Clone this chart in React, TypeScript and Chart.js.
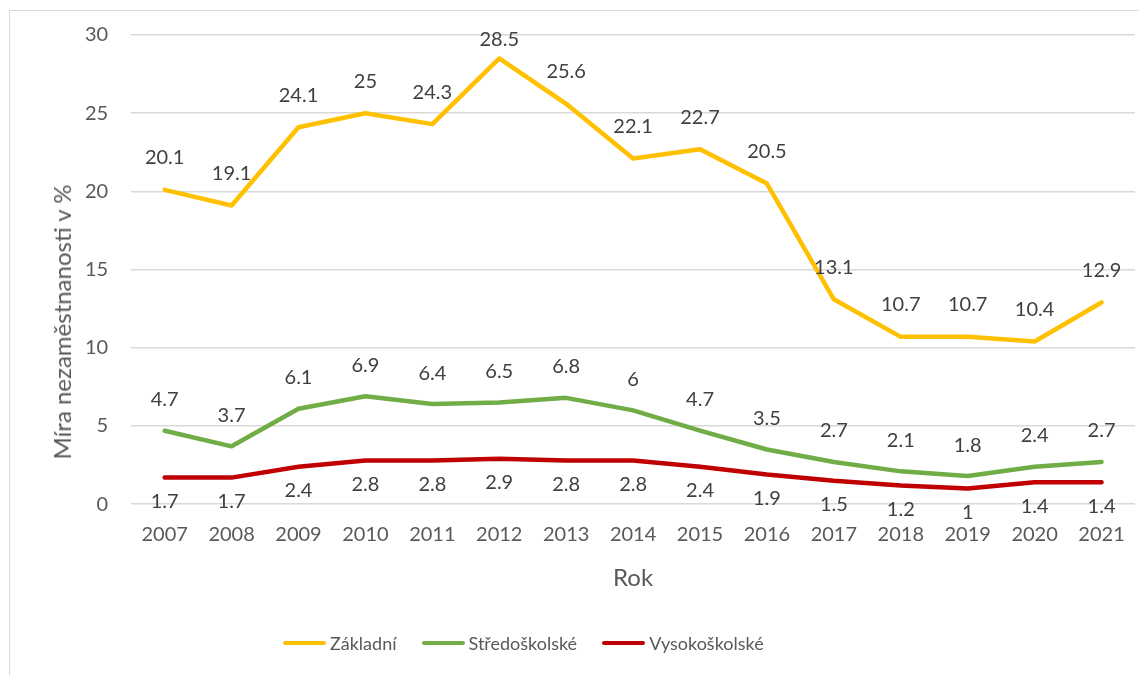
import React, { useEffect, useRef } from "react";
import { Chart, registerables } from "chart.js";

Chart.register(...registerables);

const years = ["2007","2008","2009","2010","2011","2012","2013","2014","2015","2016","2017","2018","2019","2020","2021"];
const zakladni = [20.1, 19.1, 24.1, 25, 24.3, 28.5, 25.6, 22.1, 22.7, 20.5, 13.1, 10.7, 10.7, 10.4, 12.9];
const stredoskolske = [4.7, 3.7, 6.1, 6.9, 6.4, 6.5, 6.8, 6, 4.7, 3.5, 2.7, 2.1, 1.8, 2.4, 2.7];
const vysokoskolske = [1.7, 1.7, 2.4, 2.8, 2.8, 2.9, 2.8, 2.8, 2.4, 1.9, 1.5, 1.2, 1, 1.4, 1.4];
const seriesNames = ["Základní", "Středoškolské", "Vysokoškolské"];
const seriesColors = ["#FFC000", "#70AD47", "#C00000"];
const labelOffsets = [-32, -31, 24];
const yTitle = "Míra nezaměstnanosti v %";
const xTitle = "Rok";

const FONT = "Lato, 'Open Sans', sans-serif";

const dataLabels = {
  id: "dataLabels",
  afterDatasetsDraw(chart: any) {
    const ctx = chart.ctx;
    const top = chart.chartArea.top + 5;
    ctx.save();
    ctx.font = `20px ${FONT}`;
    ctx.fillStyle = "#404040";
    ctx.textAlign = "center";
    ctx.textBaseline = "middle";
    chart.data.datasets.forEach((ds: any, i: number) => {
      const meta = chart.getDatasetMeta(i);
      meta.data.forEach((pt: any, j: number) => {
        const y = Math.max(pt.y + labelOffsets[i], top);
        ctx.fillText(String(ds.data[j]), pt.x, y);
      });
    });
    ctx.restore();
  },
};

export default function App() {
  const ref = useRef<HTMLCanvasElement>(null);
  useEffect(() => {
    const values = [zakladni, stredoskolske, vysokoskolske];
    const chart = new Chart(ref.current!, {
      type: "line",
      data: {
        labels: years,
        datasets: values.map((v, i) => ({
          label: seriesNames[i],
          data: v,
          borderColor: seriesColors[i],
          backgroundColor: seriesColors[i],
          borderWidth: 4.5,
          pointRadius: 0,
          tension: 0,
          borderCapStyle: "round" as const,
          borderJoinStyle: "round" as const,
        })),
      },
      options: {
        animation: false,
        responsive: false,
        layout: { padding: { left: 54, right: 12, top: 27, bottom: 78 } },
        plugins: {
          legend: { display: false },
          tooltip: { enabled: false },
        },
        scales: {
          x: {
            offset: true,
            grid: { display: false, drawTicks: false },
            border: { display: false },
            ticks: { color: "#595959", font: { family: FONT, size: 20 }, padding: 18, maxRotation: 0 },
            title: { display: true, text: xTitle, color: "#595959", font: { family: FONT, size: 24 }, padding: { top: 0, bottom: 4 } },
          },
          y: {
            min: 0,
            max: 30,
            ticks: { stepSize: 5, color: "#595959", font: { family: FONT, size: 20 }, padding: 23 },
            grid: { color: "#d9d9d9", lineWidth: 1.5, drawTicks: false },
            border: { display: false },
            afterFit: (s: any) => {
              s.paddingTop = 0;
            },
          },
        },
      },
      plugins: [dataLabels],
    });
    return () => chart.destroy();
  }, []);
  return (
    <div style={{ position: "relative", width: 1139, height: 667, overflow: "hidden" }}>
      <div style={{ position: "absolute", left: 1, top: 2, right: 0, bottom: 0, borderLeft: "1.5px solid #d9d9d9", borderTop: "1.5px solid #d9d9d9" }} />
      <canvas ref={ref} width={1139} height={667} style={{ position: "absolute", left: 0, top: 0 }} />
      <div
        style={{
          position: "absolute",
          left: 54,
          top: 314,
          transform: "translate(-50%, -50%) rotate(-90deg)",
          whiteSpace: "nowrap",
          fontFamily: FONT,
          fontSize: 24,
          color: "#595959",
          lineHeight: "28px",
        }}
      >
        {yTitle}
      </div>
      <div
        style={{
          position: "absolute",
          left: 275,
          top: 623,
          height: 24,
          display: "flex",
          alignItems: "center",
          fontFamily: FONT,
          fontSize: 18,
          color: "#595959",
        }}
      >
        {seriesNames.map((name, i) => (
          <div key={name} style={{ display: "flex", alignItems: "center", marginRight: i < 2 ? 25 : 0 }}>
            <span style={{ display: "inline-block", width: 43, height: 4.5, borderRadius: 3, background: seriesColors[i], marginRight: 4 }} />
            <span>{name}</span>
          </div>
        ))}
      </div>
    </div>
  );
}
